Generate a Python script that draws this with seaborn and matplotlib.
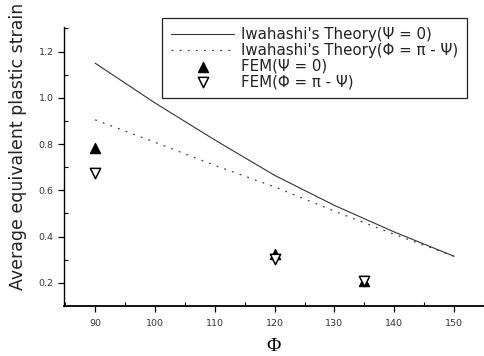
import matplotlib
matplotlib.use("Agg")
import matplotlib.pyplot as plt
from matplotlib.ticker import MultipleLocator
import seaborn as sns

# ---- data ----
phi_theory = [90, 100, 110, 120, 130, 140, 150]
theory_psi0 = [1.15, 0.978, 0.818, 0.665, 0.535, 0.42, 0.315]
theory_phi = [0.905, 0.808, 0.708, 0.615, 0.51, 0.41, 0.315]
phi_fem = [90, 120, 135]
fem_psi0 = [0.785, 0.325, 0.21]
fem_phi = [0.675, 0.303, 0.21]

labels = ["Iwahashi's Theory(\u03a8 = 0)",
          "Iwahashi's Theory(\u03a6 = \u03c0 - \u03a8)",
          "FEM(\u03a8 = 0)",
          "FEM(\u03a6 = \u03c0 - \u03a8)"]
xlabel = "\u03a6"
ylabel = "Average equivalent plastic strain"

sns.set_style("white")
plt.rcParams['font.family'] = ['DejaVu Sans']

W, H = 484, 356
fig = plt.figure(figsize=(W / 100, H / 100), dpi=100)
ax = fig.add_axes([64 / W, 1 - 306 / H, 1 - 64 / W, (306 - 27.3) / H])

sns.lineplot(x=phi_theory, y=theory_psi0, ax=ax, color="#333333", lw=0.8,
             label=labels[0])
sns.lineplot(x=phi_theory, y=theory_phi, ax=ax, color="#444444", lw=0.9,
             linestyle=(0, (1.5, 5)), label=labels[1])
sns.scatterplot(x=phi_fem, y=fem_psi0, ax=ax, marker="^", s=55,
                color="black", edgecolor="black", linewidth=0.8,
                label=labels[2], zorder=3)
sns.scatterplot(x=phi_fem, y=fem_phi, ax=ax, marker="v", s=55,
                facecolor="white", edgecolor="black", linewidth=1.1,
                label=labels[3], zorder=4)

ax.set_xlim(84.8, 155)
ax.set_ylim(0.1, 1.305)
ax.xaxis.set_minor_locator(MultipleLocator(5))
ax.yaxis.set_minor_locator(MultipleLocator(0.1))
ax.set_xticks([90, 100, 110, 120, 130, 140, 150])
ax.set_yticks([0.2, 0.4, 0.6, 0.8, 1.0, 1.2])
ax.set_yticklabels(["0.2", "0.4", "0.6", "0.8", "1.0", "1.2"])

for s in ["top", "right"]:
    ax.spines[s].set_visible(False)
for s in ["left", "bottom"]:
    ax.spines[s].set_color("black")
    ax.spines[s].set_linewidth(1.0)
ax.spines["bottom"].set_linewidth(1.3)

ax.tick_params(which="major", direction="out", length=4, width=0.9,
               color="black", labelsize=6.8, labelcolor="#333333", pad=3.5)
ax.tick_params(which="minor", direction="in", length=3, width=0.8,
               color="black")
ax.tick_params(axis="x", which="major", pad=5)
ax.tick_params(left=True, bottom=True, which="both")

ax.set_xlabel(xlabel, family="Liberation Serif", fontsize=14, color="black",
              va="center")
ax.xaxis.set_label_coords(0.5, -0.147)
ax.set_ylabel(ylabel, fontsize=12.5, color="#222222", va="center")
ax.yaxis.set_label_coords(-0.1095, 0.574)

leg = ax.legend(loc="upper right", bbox_to_anchor=(467 / W, 1 - 18 / H),
                bbox_transform=fig.transFigure, fontsize=10.8, frameon=True,
                fancybox=False, edgecolor="#222222", framealpha=1,
                handlelength=4.2, handletextpad=0.45, labelspacing=0.05,
                borderpad=0.6, borderaxespad=0)
leg.get_frame().set_linewidth(0.9)
for t in leg.get_texts():
    t.set_color("#222222")

fig.savefig("out.png", dpi=100)
